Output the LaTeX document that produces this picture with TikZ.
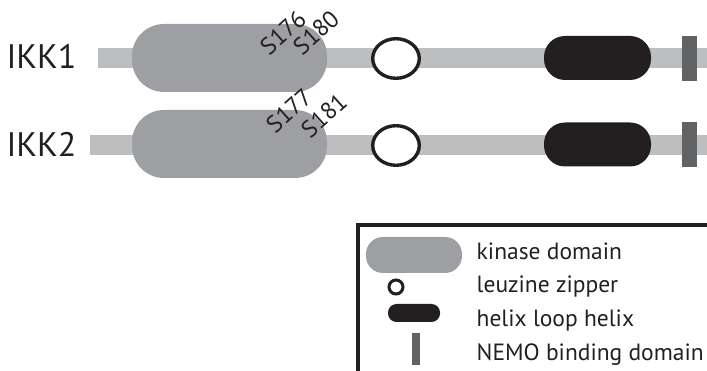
\documentclass[tikz,border=0pt]{standalone}
\usepackage{fontspec}
\setmainfont{PT Sans}
\usetikzlibrary{shapes.geometric}
\definecolor{barc}{HTML}{BCBEC0}
\definecolor{kinc}{HTML}{9D9FA2}
\definecolor{helc}{HTML}{231F20}
\definecolor{nemc}{HTML}{616264}
\tikzset{
  bar/.style={rectangle, fill=barc, inner sep=0pt, minimum height=20pt},
  kinase/.style={rectangle, fill=kinc, inner sep=0pt, minimum width=195pt, minimum height=68pt, rounded corners=32pt},
  zipper/.style={ellipse, draw=helc, fill=white, line width=3.4pt, inner sep=0pt, minimum width=46.6pt, minimum height=39.6pt},
  helix/.style={rectangle, fill=helc, inner sep=0pt, minimum width=107pt, minimum height=44pt, rounded corners=21pt},
  nemo/.style={rectangle, fill=nemc, inner sep=0pt, minimum width=15pt, minimum height=45pt},
  rowlabel/.style={font=\fontsize{34}{36}\selectfont, text=helc, inner sep=0pt},
  serlabel/.style={font=\fontsize{24}{26}\selectfont, text=helc, inner sep=0pt, rotate=42},
  legtext/.style={font=\fontsize{23.5}{26}\selectfont, text=helc, inner sep=0pt, anchor=base west},
}
\begin{document}
\begin{tikzpicture}[x=1pt,y=-1pt]
\useasboundingbox (0,0) rectangle (707,371);
% row IKK1
\node[rowlabel] (l1) at (41.5,56.5) {IKK1};
\node[bar, minimum width=612pt] (b1) at (404,58) {};
\node[kinase] (k1) at (229.5,58) {};
\node[zipper] (z1) at (396,58.5) {};
\node[helix] (h1) at (597.5,58) {};
\node[nemo] (n1) at (689.5,58.5) {};
\node[serlabel] (s176) at (283,32.5) {S176};
\node[serlabel] (s180) at (316,32.5) {S180};
% row IKK2
\node[rowlabel] (l2) at (41.5,144) {IKK2};
\node[bar, minimum width=620pt] (b2) at (400,145) {};
\node[kinase] (k2) at (229.5,144) {};
\node[zipper] (z2) at (396,145.5) {};
\node[helix] (h2) at (597.5,144.5) {};
\node[nemo] (n2) at (689.5,145) {};
\node[serlabel] (s177) at (289,110.5) {S177};
\node[serlabel] (s181) at (324,115.5) {S181};
% legend
\draw[helc, line width=4pt] (712,225.5) -- (358,225.5) -- (358,376);
\node[rectangle, fill=kinc, inner sep=0pt, minimum width=96pt, minimum height=36pt, rounded corners=17pt] (lk) at (414,255) {};
\node[circle, draw=helc, fill=white, line width=3pt, inner sep=0pt, minimum size=14pt] (lz) at (396,287) {};
\node[rectangle, fill=helc, inner sep=0pt, minimum width=52pt, minimum height=18pt, rounded corners=8.5pt] (lh) at (414,313) {};
\node[rectangle, fill=nemc, inner sep=0pt, minimum width=8pt, minimum height=32pt] (ln) at (416,349) {};
\node[legtext] (tk) at (476.5,260) {kinase domain};
\node[legtext] (tz) at (476.5,293) {leuzine zipper};
\node[legtext] (th) at (476.5,326.5) {helix loop helix};
\node[legtext] (tn) at (476.5,360) {NEMO binding domain};
\end{tikzpicture}
\end{document}
